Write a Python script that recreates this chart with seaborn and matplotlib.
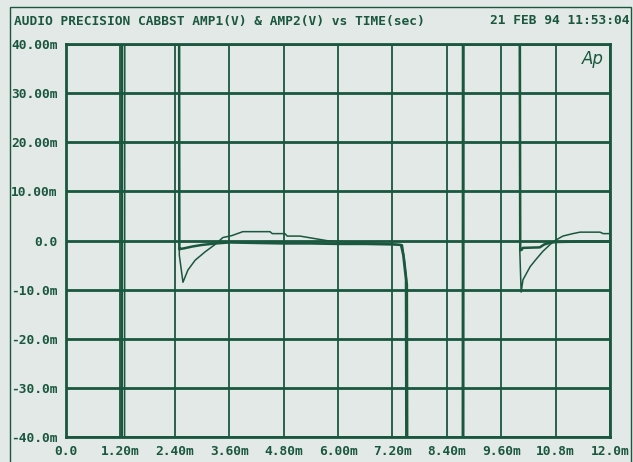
import pandas as pd
import matplotlib.pyplot as plt
import matplotlib.patches as patches
import seaborn as sns

# time in ms, amplitude in mV; +/-100 means the trace is off scale
amp1_t = [0.0, 1.23, 1.24, 2.49, 2.50, 2.53, 2.60, 2.80, 3.00, 3.30, 3.60, 4.20,
          4.80, 5.40, 6.00, 6.60, 7.20, 7.39, 7.44, 7.50, 7.52, 8.75, 8.76,
          10.00, 10.02, 10.05, 10.08, 10.45, 10.55, 10.70, 10.85, 11.40, 12.0]
amp1_v = [-100, -100, 100, 100, -1.8, -1.7, -1.6, -1.2, -0.9, -0.6, -0.4, -0.5,
          -0.6, -0.6, -0.7, -0.7, -0.8, -0.9, -3.0, -8.0, -100, -100, 100,
          100, -2.0, -1.9, -1.5, -1.4, -0.8, -0.4, -0.3, -0.2, -0.2]

amp2_t = [0.0, 1.29, 1.30, 2.49, 2.50, 2.58, 2.69, 2.85, 3.07, 3.29, 3.46, 3.66,
          3.90, 4.50, 4.55, 4.83, 4.88, 5.16, 5.80, 6.60, 7.20, 7.42, 7.47,
          7.53, 7.55, 8.77, 8.78, 10.00, 10.01, 10.04, 10.08, 10.24, 10.39, 10.52,
          10.68, 10.79, 10.96, 11.18, 11.34, 11.78, 11.85, 12.0]
amp2_v = [-100, -100, 100, 100, -3.0, -8.5, -6.0, -4.0, -2.3, -0.8, 0.6, 1.0,
          1.8, 1.8, 1.4, 1.4, 0.9, 0.9, -0.1, -0.5, -0.7, -0.9, -4.0,
          -9.0, -100, -100, 100, 100, -2.0, -10.5, -8.0, -5.3, -3.6, -2.2,
          -0.8, 0.0, 0.9, 1.4, 1.7, 1.7, 1.4, 1.4]

x_ticks = [0.0, 1.2, 2.4, 3.6, 4.8, 6.0, 7.2, 8.4, 9.6, 10.8, 12.0]
x_labels = ['0.0', '1.20m', '2.40m', '3.60m', '4.80m', '6.00m', '7.20m',
            '8.40m', '9.60m', '10.8m', '12.0m']
y_ticks = [40, 30, 20, 10, 0, -10, -20, -30, -40]
y_labels = ['40.00m', '30.00m', '20.00m', '10.00m', '0.0', '-10.0m',
            '-20.0m', '-30.0m', '-40.0m']

title = 'AUDIO PRECISION CABBST AMP1(V) & AMP2(V) vs TIME(sec)'
stamp = '21 FEB 94 11:53:04'

bg = '#e3e9e6'
ink = '#1a573f'

sns.set_style('white')
plt.rcParams['font.family'] = ['DejaVu Sans Mono']

amp1 = pd.DataFrame({'t': amp1_t, 'v': amp1_v})
amp2 = pd.DataFrame({'t': amp2_t, 'v': amp2_v})

fig = plt.figure(figsize=(6.33, 4.62), dpi=100, facecolor=bg)
ax = fig.add_axes([66 / 633, 1 - 437 / 462, 544 / 633, 393 / 462])
ax.set_facecolor(bg)

sns.lineplot(data=amp1, x='t', y='v', sort=False, estimator=None,
             color=ink, lw=1.8, ax=ax)
sns.lineplot(data=amp2, x='t', y='v', sort=False, estimator=None,
             color=ink, lw=1.1, ax=ax)

ax.set_xlim(0, 12)
ax.set_ylim(-40, 40)
ax.set_xticks(x_ticks, x_labels)
ax.set_yticks(y_ticks, y_labels)
ax.set_xlabel('')
ax.set_ylabel('')
ax.tick_params(length=0, colors=ink, labelsize=9.3)
ax.tick_params(axis='x', pad=6)
ax.tick_params(axis='y', pad=6)
for lab in ax.get_xticklabels() + ax.get_yticklabels():
    lab.set_fontweight('bold')
ax.grid(axis='y', color=ink, lw=2)
ax.grid(axis='x', color=ink, lw=1.3)
for s in ax.spines.values():
    s.set_color(ink)
    s.set_linewidth(2)

ax.text(0.988, 0.985, 'Ap', transform=ax.transAxes, ha='right', va='top',
        style='italic', fontsize=12, family='DejaVu Sans', color=ink)

fig.text(14 / 633, 1 - 21 / 462, title, ha='left', va='center',
         fontsize=9.3, fontweight='bold', color=ink)
fig.text(630 / 633, 1 - 21 / 462, stamp, ha='right', va='center',
         fontsize=9.3, fontweight='bold', color=ink)

fig.add_artist(patches.Rectangle((10 / 633, -0.05), 621 / 633, 1.05 - 7 / 462,
                                 transform=fig.transFigure, fill=False,
                                 edgecolor=ink, lw=1.0))

fig.savefig('out.png', dpi=100, facecolor=bg)
